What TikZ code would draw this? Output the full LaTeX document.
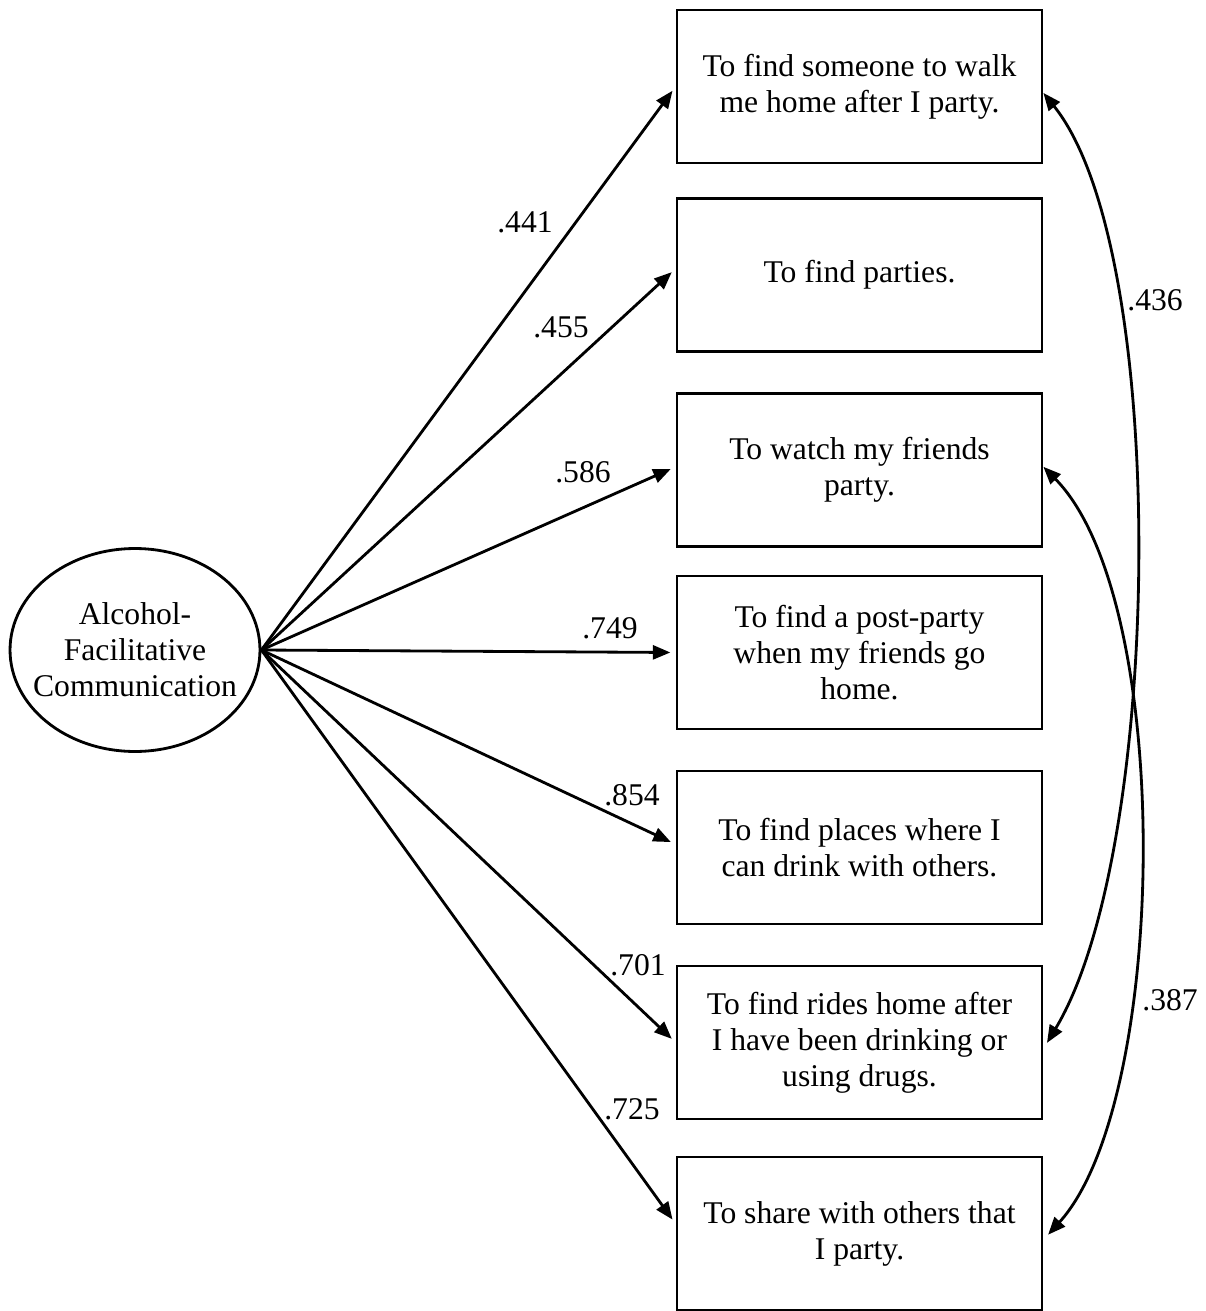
\documentclass[tikz,border=0pt]{standalone}
\usepackage{fontspec}
\setmainfont{Liberation Serif}
\usetikzlibrary{arrows.meta,shapes.geometric}

\begin{document}
\begin{tikzpicture}[x=0.02cm,y=-0.02cm,
    font=\fontsize{18}{20.5}\selectfont,
    item/.style={draw,line width=1.6pt,minimum width=7.3cm,minimum height=3.06cm,align=center,inner sep=0},
    factor/.style={draw,ellipse,line width=1.6pt,minimum width=5cm,minimum height=4.06cm,align=center,inner xsep=-8pt,inner ysep=0},
    load/.style={line width=1.6pt,-{Triangle[length=10pt,width=8pt]},shorten >=3pt},
    corr/.style={line width=1.6pt,{Triangle[length=10pt,width=8pt]}-{Triangle[length=10pt,width=8pt]},shorten >=4pt}]
    \useasboundingbox (0,0) rectangle (1205,1311);
    % latent factor
    \node[factor] (afc) at (135,650) {Alcohol-\\Facilitative\\Communication};
    % indicators
    \node[item] (walk) at (859.5,86.5) {To find someone to walk\\me home after I party.};
    \node[item] (parties) at (859.5,275) {To find parties.};
    \node[item] (watch) at (859.5,470) {To watch my friends\\party.};
    \node[item] (post) at (859.5,652.5) {To find a post-party\\when my friends go\\home.};
    \node[item] (places) at (859.5,847.5) {To find places where I\\can drink with others.};
    \node[item] (rides) at (859.5,1042.5) {To find rides home after\\I have been drinking or\\using drugs.};
    \node[item] (share) at (859.5,1233.5) {To share with others that\\I party.};
    % loadings
    \draw[load] (afc.east) -- (walk.west);
    \draw[load] (afc.east) -- (parties.178);
    \draw[load] (afc.east) -- (watch.179);
    \draw[load] (afc.east) -- (post.west);
    \draw[load] (afc.east) -- (places.179);
    \draw[load] (afc.east) -- (rides.180);
    \draw[load] (afc.east) -- (share.177);
    \node at (525,222) {.441};
    \node at (561,327) {.455};
    \node at (583,472) {.586};
    \node at (610,628) {.749};
    \node at (632,795) {.854};
    \node at (638,965) {.701};
    \node at (632,1109) {.725};
    % correlated errors
    \draw[corr] (walk.-2) .. controls +(127,158) and +(120,-200) .. (rides.-2);
    \draw[corr] (watch.1) .. controls +(132,134) and +(125,-138) .. (share.-2);
    \node at (1155,300) {.436};
    \node at (1170,1000) {.387};
\end{tikzpicture}
\end{document}
